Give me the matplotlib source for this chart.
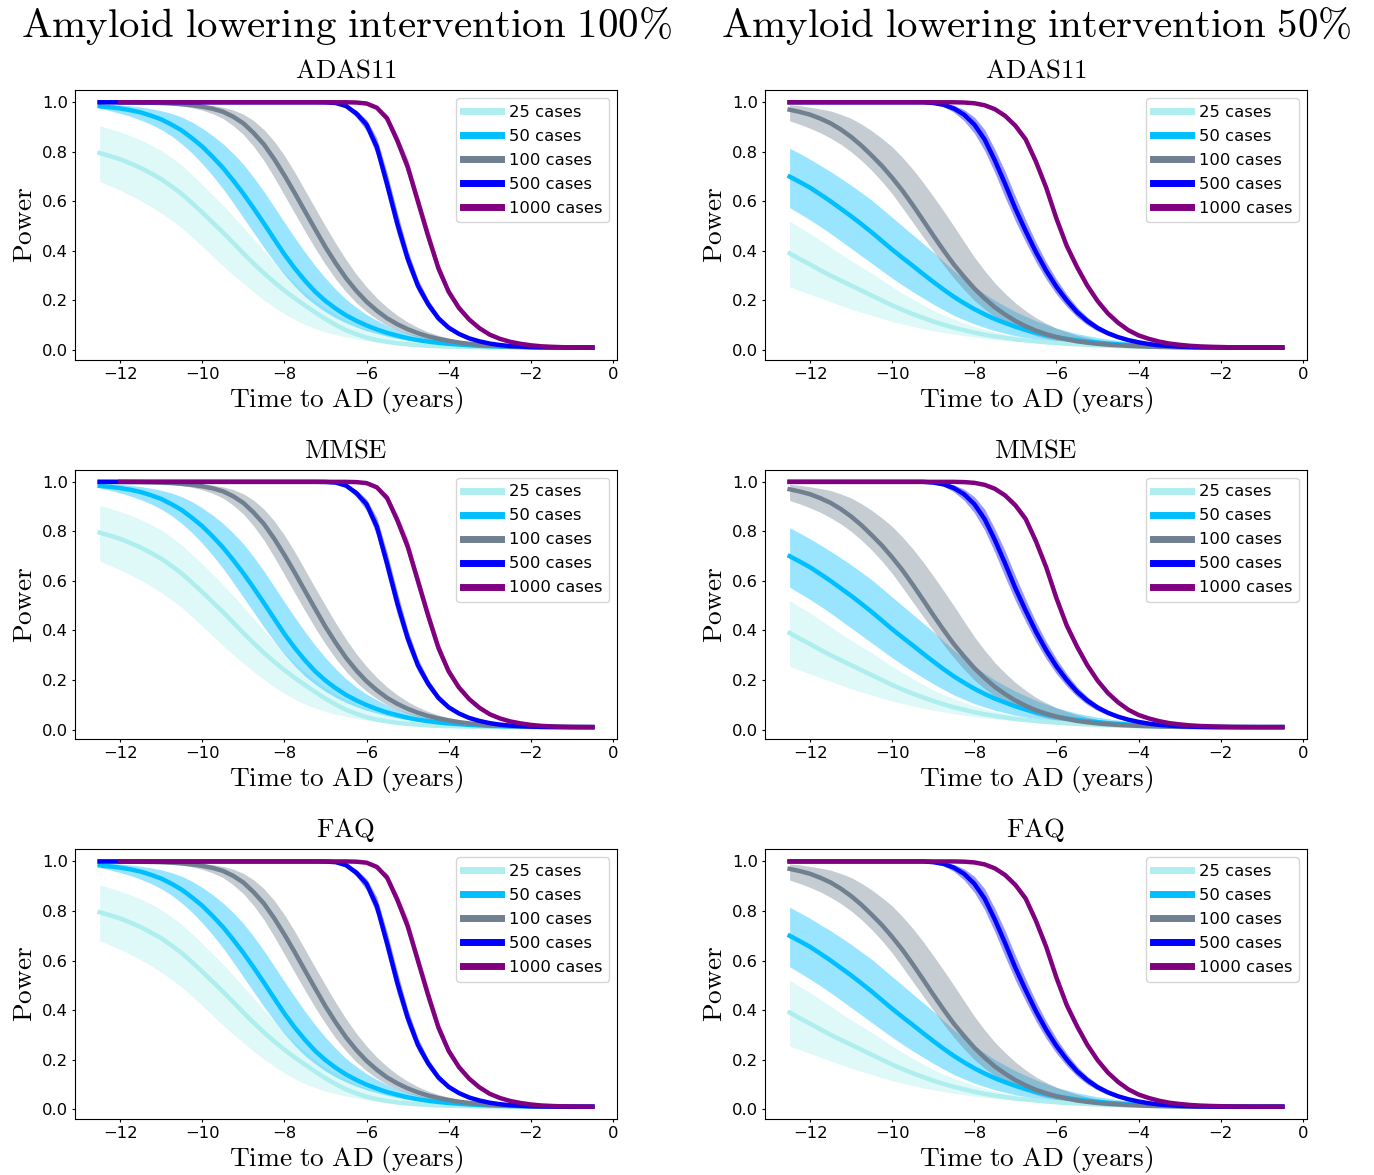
#! /usr/bin/env python3

import numpy as np
import matplotlib
matplotlib.use('Agg')
import matplotlib.pyplot as plt

''' power_curves.py
Power of an amyloid lowering trial against time to AD onset,
for two intervention strengths and three outcome scores.
Shaded areas are the bounds around each power curve.
'''

# time to AD (years) where power was evaluated, every quarter year
years = [-12.5, -12.25, -12.0, -11.75, -11.5, -11.25, -11.0,
         -10.75, -10.5, -10.25, -10.0, -9.75, -9.5, -9.25,
         -9.0, -8.75, -8.5, -8.25, -8.0, -7.75, -7.5,
         -7.25, -7.0, -6.75, -6.5, -6.25, -6.0, -5.75,
         -5.5, -5.25, -5.0, -4.75, -4.5, -4.25, -4.0,
         -3.75, -3.5, -3.25, -3.0, -2.75, -2.5, -2.25,
         -2.0, -1.75, -1.5, -1.25, -1.0, -0.75, -0.5]

case_labels = ['25 cases', '50 cases', '100 cases', '500 cases', '1000 cases']
scores = ['ADAS11', 'MMSE', 'FAQ']
interventions = ['100%', '50%']

# ---------------- intervention 100% ----------------
full_25 = [0.795, 0.783, 0.770, 0.753, 0.735, 0.713, 0.690,
           0.661, 0.630, 0.593, 0.555, 0.515, 0.475, 0.433,
           0.390, 0.349, 0.310, 0.274, 0.240, 0.209, 0.180,
           0.152, 0.125, 0.101, 0.080, 0.064, 0.050, 0.040,
           0.033, 0.027, 0.023, 0.020, 0.017, 0.015, 0.014,
           0.013, 0.012, 0.0115, 0.011, 0.0105, 0.010, 0.010,
           0.010, 0.010, 0.010, 0.010, 0.010, 0.010, 0.010]
full_25_hi = [0.905, 0.893, 0.880, 0.865, 0.848, 0.828, 0.805,
              0.777, 0.745, 0.708, 0.668, 0.627, 0.585, 0.541,
              0.495, 0.448, 0.400, 0.354, 0.310, 0.270, 0.232,
              0.199, 0.168, 0.143, 0.120, 0.101, 0.085, 0.072,
              0.061, 0.052, 0.044, 0.038, 0.032, 0.028, 0.024,
              0.021, 0.018, 0.0165, 0.015, 0.014, 0.013, 0.0125,
              0.012, 0.0115, 0.011, 0.0105, 0.010, 0.010, 0.010]
full_25_lo = [0.680, 0.663, 0.645, 0.625, 0.603, 0.579, 0.553,
              0.524, 0.493, 0.456, 0.418, 0.379, 0.340, 0.303,
              0.268, 0.234, 0.202, 0.173, 0.146, 0.123, 0.103,
              0.087, 0.073, 0.062, 0.053, 0.045, 0.038, 0.033,
              0.028, 0.025, 0.022, 0.020, 0.018, 0.0165, 0.015,
              0.014, 0.013, 0.0125, 0.012, 0.0115, 0.011, 0.0105,
              0.010, 0.010, 0.010, 0.010, 0.010, 0.010, 0.010]

full_50 = [0.984, 0.980, 0.975, 0.968, 0.959, 0.946, 0.931,
           0.910, 0.886, 0.855, 0.821, 0.780, 0.736, 0.685,
           0.631, 0.572, 0.511, 0.448, 0.386, 0.330, 0.280,
           0.235, 0.198, 0.167, 0.140, 0.118, 0.099, 0.083,
           0.069, 0.058, 0.048, 0.040, 0.034, 0.029, 0.025,
           0.022, 0.019, 0.017, 0.015, 0.014, 0.013, 0.012,
           0.011, 0.0107, 0.0105, 0.0102, 0.010, 0.010, 0.010]
full_50_hi = [0.993, 0.992, 0.990, 0.986, 0.981, 0.974, 0.966,
              0.955, 0.940, 0.920, 0.895, 0.866, 0.833, 0.794,
              0.750, 0.697, 0.640, 0.578, 0.515, 0.454, 0.395,
              0.340, 0.290, 0.245, 0.205, 0.172, 0.143, 0.120,
              0.099, 0.082, 0.068, 0.057, 0.047, 0.040, 0.033,
              0.028, 0.024, 0.021, 0.018, 0.016, 0.014, 0.013,
              0.012, 0.0115, 0.011, 0.0106, 0.0103, 0.0101, 0.010]
full_50_lo = [0.975, 0.966, 0.955, 0.943, 0.928, 0.911, 0.890,
              0.864, 0.832, 0.795, 0.752, 0.704, 0.652, 0.594,
              0.534, 0.474, 0.414, 0.357, 0.304, 0.257, 0.216,
              0.183, 0.154, 0.130, 0.110, 0.093, 0.078, 0.067,
              0.056, 0.047, 0.040, 0.034, 0.029, 0.025, 0.022,
              0.019, 0.017, 0.0155, 0.014, 0.013, 0.012, 0.0115,
              0.011, 0.0106, 0.0103, 0.0101, 0.010, 0.010, 0.010]

full_100 = [1.0, 1.0, 0.9995, 0.9992, 0.999, 0.998, 0.997,
            0.995, 0.992, 0.988, 0.982, 0.974, 0.962, 0.942,
            0.915, 0.876, 0.830, 0.771, 0.705, 0.634, 0.560,
            0.487, 0.415, 0.350, 0.290, 0.239, 0.195, 0.159,
            0.128, 0.104, 0.084, 0.068, 0.055, 0.045, 0.037,
            0.030, 0.025, 0.021, 0.018, 0.016, 0.014, 0.013,
            0.012, 0.011, 0.0107, 0.0104, 0.0102, 0.0101, 0.010]
full_100_hi = [1.0, 1.0, 1.0, 1.0, 1.0, 1.0, 0.9995,
               0.999, 0.997, 0.995, 0.992, 0.987, 0.980, 0.969,
               0.952, 0.926, 0.890, 0.843, 0.785, 0.718, 0.645,
               0.572, 0.500, 0.430, 0.365, 0.306, 0.255, 0.210,
               0.172, 0.140, 0.113, 0.091, 0.073, 0.059, 0.048,
               0.039, 0.032, 0.026, 0.022, 0.019, 0.016, 0.0145,
               0.013, 0.012, 0.0115, 0.011, 0.0105, 0.0103, 0.0102]
full_100_lo = [1.0, 0.9995, 0.999, 0.998, 0.997, 0.995, 0.993,
               0.990, 0.985, 0.978, 0.968, 0.954, 0.935, 0.906,
               0.870, 0.822, 0.765, 0.697, 0.625, 0.552, 0.480,
               0.410, 0.345, 0.286, 0.235, 0.191, 0.155, 0.125,
               0.100, 0.081, 0.065, 0.053, 0.043, 0.035, 0.029,
               0.024, 0.020, 0.017, 0.015, 0.013, 0.012, 0.0115,
               0.011, 0.0106, 0.0103, 0.0101, 0.010, 0.010, 0.010]

full_500 = [1.0, 1.0, 1.0, 1.0, 1.0, 1.0, 1.0,
            1.0, 1.0, 1.0, 1.0, 1.0, 1.0, 1.0,
            1.0, 1.0, 1.0, 1.0, 1.0, 1.0, 1.0,
            1.0, 0.9995, 0.997, 0.985, 0.955, 0.910, 0.820,
            0.670, 0.510, 0.370, 0.260, 0.185, 0.128, 0.090,
            0.065, 0.047, 0.035, 0.026, 0.020, 0.016, 0.014,
            0.012, 0.011, 0.0105, 0.0102, 0.010, 0.010, 0.010]
full_500_hi = [1.0, 1.0, 1.0, 1.0, 1.0, 1.0, 1.0,
               1.0, 1.0, 1.0, 1.0, 1.0, 1.0, 1.0,
               1.0, 1.0, 1.0, 1.0, 1.0, 1.0, 1.0,
               1.0, 1.0, 0.999, 0.990, 0.968, 0.930, 0.855,
               0.715, 0.555, 0.405, 0.287, 0.204, 0.142, 0.100,
               0.072, 0.052, 0.038, 0.028, 0.022, 0.017, 0.015,
               0.013, 0.0115, 0.011, 0.0105, 0.0102, 0.010, 0.010]
full_500_lo = [1.0, 1.0, 1.0, 1.0, 1.0, 1.0, 1.0,
               1.0, 1.0, 1.0, 1.0, 1.0, 1.0, 1.0,
               1.0, 1.0, 1.0, 1.0, 1.0, 1.0, 1.0,
               1.0, 0.999, 0.993, 0.977, 0.940, 0.885, 0.785,
               0.625, 0.465, 0.335, 0.235, 0.167, 0.115, 0.081,
               0.059, 0.043, 0.032, 0.024, 0.019, 0.015, 0.013,
               0.0115, 0.0107, 0.0103, 0.0101, 0.010, 0.010, 0.010]

# the 1000-case run has no estimate before -12 years
full_1000 = [np.nan, np.nan, 1.0, 1.0, 1.0, 1.0, 1.0,
             1.0, 1.0, 1.0, 1.0, 1.0, 1.0, 1.0,
             1.0, 1.0, 1.0, 1.0, 1.0, 1.0, 1.0,
             1.0, 1.0, 1.0, 1.0, 0.999, 0.995, 0.978,
             0.935, 0.845, 0.740, 0.600, 0.460, 0.330, 0.235,
             0.170, 0.123, 0.088, 0.062, 0.045, 0.033, 0.025,
             0.019, 0.015, 0.013, 0.0115, 0.0107, 0.0103, 0.010]
full_1000_hi = [np.nan, np.nan, 1.0, 1.0, 1.0, 1.0, 1.0,
                1.0, 1.0, 1.0, 1.0, 1.0, 1.0, 1.0,
                1.0, 1.0, 1.0, 1.0, 1.0, 1.0, 1.0,
                1.0, 1.0, 1.0, 1.0, 1.0, 0.997, 0.984,
                0.950, 0.868, 0.770, 0.630, 0.490, 0.355, 0.252,
                0.183, 0.132, 0.095, 0.067, 0.049, 0.036, 0.027,
                0.021, 0.016, 0.0135, 0.012, 0.011, 0.0105, 0.0102]
full_1000_lo = [np.nan, np.nan, 1.0, 1.0, 1.0, 1.0, 1.0,
                1.0, 1.0, 1.0, 1.0, 1.0, 1.0, 1.0,
                1.0, 1.0, 1.0, 1.0, 1.0, 1.0, 1.0,
                1.0, 1.0, 1.0, 1.0, 0.999, 0.992, 0.970,
                0.918, 0.820, 0.710, 0.570, 0.430, 0.305, 0.218,
                0.157, 0.114, 0.081, 0.057, 0.041, 0.030, 0.023,
                0.017, 0.014, 0.0125, 0.011, 0.0104, 0.0101, 0.010]

# ---------------- intervention 50% ----------------
half_25 = [0.390, 0.367, 0.345, 0.322, 0.300, 0.280, 0.260,
           0.240, 0.220, 0.200, 0.180, 0.162, 0.145, 0.130,
           0.115, 0.102, 0.090, 0.080, 0.070, 0.062, 0.055,
           0.049, 0.043, 0.039, 0.035, 0.031, 0.028, 0.025,
           0.023, 0.021, 0.019, 0.0175, 0.016, 0.015, 0.014,
           0.013, 0.012, 0.0115, 0.011, 0.0105, 0.010, 0.010,
           0.010, 0.010, 0.010, 0.010, 0.010, 0.010, 0.010]
half_25_hi = [0.520, 0.495, 0.470, 0.443, 0.415, 0.387, 0.360,
              0.335, 0.310, 0.282, 0.255, 0.229, 0.205, 0.182,
              0.160, 0.141, 0.125, 0.109, 0.095, 0.083, 0.073,
              0.064, 0.057, 0.050, 0.045, 0.040, 0.036, 0.032,
              0.029, 0.026, 0.024, 0.022, 0.020, 0.0185, 0.017,
              0.0155, 0.014, 0.013, 0.012, 0.0115, 0.011, 0.0105,
              0.010, 0.010, 0.010, 0.010, 0.010, 0.010, 0.010]
half_25_lo = [0.255, 0.240, 0.225, 0.210, 0.195, 0.180, 0.165,
              0.152, 0.140, 0.127, 0.115, 0.105, 0.095, 0.086,
              0.078, 0.071, 0.064, 0.058, 0.052, 0.047, 0.043,
              0.039, 0.036, 0.033, 0.030, 0.027, 0.025, 0.023,
              0.021, 0.0195, 0.018, 0.0165, 0.015, 0.014, 0.013,
              0.0125, 0.012, 0.0115, 0.011, 0.0105, 0.010, 0.010,
              0.010, 0.010, 0.010, 0.010, 0.010, 0.010, 0.010]

half_50 = [0.700, 0.678, 0.655, 0.628, 0.600, 0.570, 0.540,
           0.508, 0.475, 0.440, 0.405, 0.372, 0.340, 0.307,
           0.275, 0.244, 0.215, 0.189, 0.165, 0.144, 0.125,
           0.109, 0.094, 0.081, 0.070, 0.060, 0.052, 0.045,
           0.039, 0.034, 0.030, 0.026, 0.023, 0.020, 0.018,
           0.0165, 0.015, 0.014, 0.013, 0.012, 0.011, 0.0105,
           0.010, 0.010, 0.010, 0.010, 0.010, 0.010, 0.010]
half_50_hi = [0.815, 0.793, 0.770, 0.745, 0.720, 0.693, 0.665,
              0.635, 0.605, 0.570, 0.535, 0.500, 0.465, 0.430,
              0.395, 0.357, 0.320, 0.287, 0.255, 0.227, 0.200,
              0.177, 0.155, 0.136, 0.118, 0.103, 0.088, 0.077,
              0.066, 0.058, 0.050, 0.044, 0.038, 0.033, 0.029,
              0.025, 0.022, 0.020, 0.018, 0.0165, 0.015, 0.0135,
              0.012, 0.0115, 0.011, 0.0105, 0.010, 0.010, 0.010]
half_50_lo = [0.575, 0.550, 0.525, 0.498, 0.470, 0.440, 0.410,
              0.380, 0.350, 0.320, 0.290, 0.262, 0.235, 0.210,
              0.185, 0.162, 0.140, 0.122, 0.105, 0.091, 0.078,
              0.068, 0.058, 0.051, 0.044, 0.039, 0.034, 0.0305,
              0.027, 0.024, 0.021, 0.019, 0.017, 0.016, 0.015,
              0.014, 0.013, 0.012, 0.011, 0.0105, 0.010, 0.010,
              0.010, 0.010, 0.010, 0.010, 0.010, 0.010, 0.010]

half_100 = [0.970, 0.961, 0.950, 0.934, 0.915, 0.890, 0.860,
            0.825, 0.785, 0.743, 0.695, 0.643, 0.585, 0.524,
            0.462, 0.402, 0.345, 0.295, 0.248, 0.208, 0.172,
            0.143, 0.117, 0.096, 0.078, 0.064, 0.052, 0.043,
            0.035, 0.0295, 0.025, 0.0215, 0.019, 0.0168, 0.015,
            0.0137, 0.0125, 0.0117, 0.011, 0.0106, 0.0103, 0.0101,
            0.010, 0.010, 0.010, 0.010, 0.010, 0.010, 0.010]
half_100_hi = [0.990, 0.986, 0.980, 0.973, 0.965, 0.951, 0.935,
               0.912, 0.885, 0.854, 0.820, 0.777, 0.730, 0.677,
               0.620, 0.561, 0.500, 0.437, 0.375, 0.320, 0.270,
               0.228, 0.190, 0.158, 0.130, 0.108, 0.088, 0.073,
               0.060, 0.050, 0.041, 0.034, 0.029, 0.025, 0.021,
               0.0183, 0.016, 0.0145, 0.013, 0.012, 0.011, 0.0105,
               0.010, 0.010, 0.010, 0.010, 0.010, 0.010, 0.010]
half_100_lo = [0.925, 0.911, 0.895, 0.877, 0.855, 0.830, 0.800,
               0.765, 0.725, 0.680, 0.630, 0.573, 0.515, 0.457,
               0.400, 0.343, 0.290, 0.243, 0.200, 0.165, 0.135,
               0.111, 0.090, 0.073, 0.058, 0.047, 0.038, 0.031,
               0.026, 0.022, 0.019, 0.017, 0.015, 0.0135, 0.012,
               0.0115, 0.011, 0.0105, 0.010, 0.010, 0.010, 0.010,
               0.010, 0.010, 0.010, 0.010, 0.010, 0.010, 0.010]

half_500 = [1.0, 1.0, 1.0, 1.0, 1.0, 1.0, 1.0,
            1.0, 1.0, 1.0, 1.0, 1.0, 1.0, 1.0,
            0.997, 0.990, 0.975, 0.950, 0.910, 0.850, 0.765,
            0.670, 0.570, 0.480, 0.395, 0.320, 0.255, 0.200,
            0.153, 0.117, 0.089, 0.068, 0.052, 0.040, 0.031,
            0.024, 0.019, 0.016, 0.0135, 0.012, 0.011, 0.0105,
            0.0102, 0.010, 0.010, 0.010, 0.010, 0.010, 0.010]
half_500_hi = [1.0, 1.0, 1.0, 1.0, 1.0, 1.0, 1.0,
               1.0, 1.0, 1.0, 1.0, 1.0, 1.0, 1.0,
               1.0, 0.996, 0.988, 0.970, 0.940, 0.890, 0.810,
               0.720, 0.620, 0.525, 0.435, 0.355, 0.285, 0.225,
               0.173, 0.133, 0.101, 0.077, 0.059, 0.045, 0.035,
               0.027, 0.021, 0.018, 0.015, 0.013, 0.0118, 0.011,
               0.0105, 0.0102, 0.010, 0.010, 0.010, 0.010, 0.010]
half_500_lo = [1.0, 1.0, 1.0, 1.0, 1.0, 1.0, 1.0,
               1.0, 1.0, 1.0, 1.0, 1.0, 1.0, 0.999,
               0.993, 0.982, 0.960, 0.925, 0.875, 0.805, 0.715,
               0.615, 0.520, 0.435, 0.355, 0.285, 0.225, 0.175,
               0.133, 0.101, 0.077, 0.059, 0.045, 0.035, 0.027,
               0.021, 0.017, 0.0145, 0.0125, 0.0113, 0.0105, 0.0101,
               0.010, 0.010, 0.010, 0.010, 0.010, 0.010, 0.010]

half_1000 = [1.0, 1.0, 1.0, 1.0, 1.0, 1.0, 1.0,
             1.0, 1.0, 1.0, 1.0, 1.0, 1.0, 1.0,
             1.0, 1.0, 1.0, 0.999, 0.996, 0.988, 0.972,
             0.945, 0.905, 0.850, 0.760, 0.655, 0.530, 0.420,
             0.335, 0.260, 0.198, 0.148, 0.110, 0.080, 0.059,
             0.045, 0.034, 0.026, 0.021, 0.017, 0.0145, 0.013,
             0.012, 0.011, 0.0105, 0.0102, 0.010, 0.010, 0.010]
half_1000_hi = [1.0, 1.0, 1.0, 1.0, 1.0, 1.0, 1.0,
                1.0, 1.0, 1.0, 1.0, 1.0, 1.0, 1.0,
                1.0, 1.0, 1.0, 1.0, 0.998, 0.992, 0.978,
                0.953, 0.916, 0.864, 0.776, 0.672, 0.548, 0.437,
                0.350, 0.272, 0.208, 0.156, 0.116, 0.085, 0.063,
                0.048, 0.036, 0.028, 0.022, 0.018, 0.015, 0.0135,
                0.0123, 0.0113, 0.0107, 0.0103, 0.0101, 0.010, 0.010]
half_1000_lo = [1.0, 1.0, 1.0, 1.0, 1.0, 1.0, 1.0,
                1.0, 1.0, 1.0, 1.0, 1.0, 1.0, 1.0,
                1.0, 1.0, 1.0, 0.998, 0.994, 0.984, 0.966,
                0.937, 0.894, 0.836, 0.744, 0.638, 0.512, 0.403,
                0.320, 0.248, 0.188, 0.140, 0.104, 0.075, 0.055,
                0.042, 0.032, 0.025, 0.020, 0.016, 0.014, 0.0125,
                0.0117, 0.0108, 0.0104, 0.0101, 0.010, 0.010, 0.010]

colors = ['paleturquoise', 'deepskyblue', 'slategray', 'blue', 'purple']


def plot_power(ax, curves, title):
    x = np.array(years)
    for (mean, lo, hi), color, label in zip(curves, colors, case_labels):
        ax.fill_between(x, lo, hi, color=color, alpha=0.4, linewidth=0)
        ax.plot(x, mean, color=color, linewidth=3.2, label=label)

    ax.set_title(r'$\mathrm{' + title + '}$', fontsize=19.3, pad=9)
    ax.set_xlabel(r'$\mathrm{Time\ to\ AD\ (years)}$', fontsize=19.7, labelpad=2)
    ax.set_ylabel(r'$\mathrm{Power}$', fontsize=19.7, labelpad=3)
    ax.tick_params(labelsize=11.8, length=2.5, pad=2.5)
    leg = ax.legend(loc='upper right', fontsize=11.8, handlelength=2.3,
                    handletextpad=0.5, labelspacing=0.55)
    for line in leg.get_lines():
        line.set_linewidth(5)


def main():
    plt.rcParams['mathtext.fontset'] = 'cm'

    full = [(full_25, full_25_lo, full_25_hi), (full_50, full_50_lo, full_50_hi),
            (full_100, full_100_lo, full_100_hi), (full_500, full_500_lo, full_500_hi),
            (full_1000, full_1000_lo, full_1000_hi)]
    half = [(half_25, half_25_lo, half_25_hi), (half_50, half_50_lo, half_50_hi),
            (half_100, half_100_lo, half_100_hi), (half_500, half_500_lo, half_500_hi),
            (half_1000, half_1000_lo, half_1000_hi)]

    fig, axes = plt.subplots(3, 2, figsize=(13.74, 11.75), dpi=100)
    fig.subplots_adjust(left=0.0546, right=0.9512, top=0.9234, bottom=0.0477,
                        wspace=0.273, hspace=0.407)

    for row, score in enumerate(scores):
        plot_power(axes[row, 0], full, score)
        plot_power(axes[row, 1], half, score)

    for col, pct in enumerate(interventions):
        pos = axes[0, col].get_position()
        fig.text((pos.x0 + pos.x1) / 2, 0.978,
                 r'$\mathrm{Amyloid\ lowering\ intervention\ ' + pct.replace('%', r'\%') + '}$',
                 fontsize=29.5, ha='center', va='center')

    fig.savefig('out.png', dpi=100)


if __name__ == '__main__':
    main()
